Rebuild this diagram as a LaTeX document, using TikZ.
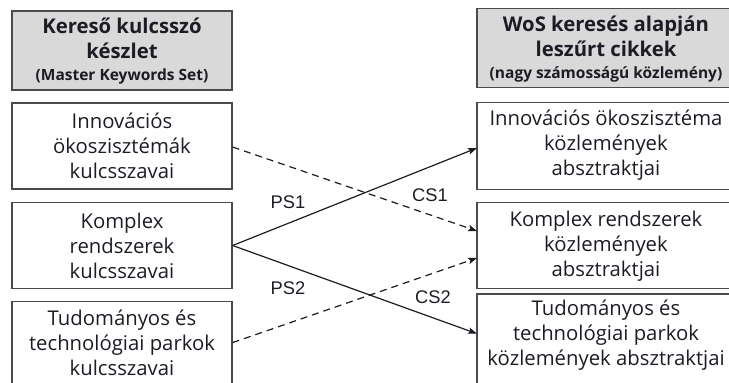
\documentclass[tikz,border=0pt]{standalone}
\usepackage{fontspec}
\setmainfont{Open Sans}
\newfontfamily\labelfont{Liberation Sans}
\usetikzlibrary{arrows.meta}
\definecolor{boxline}{HTML}{4A4A4A}
\definecolor{headfill}{HTML}{D9D9D9}
\definecolor{txt}{HTML}{1C1C24}
\tikzset{
  frame/.style={draw=boxline, line width=1.2pt, inner sep=0pt},
  lbox/.style={frame, minimum width=220pt, minimum height=86pt},
  rframe/.style={inner sep=0pt, anchor=west, minimum width=252pt, minimum height=86pt},
  openside/.style={draw=boxline, line width=1.2pt},
  txtnode/.style={inner sep=0pt, align=center, text=txt, font=\fontsize{20.3}{25}\selectfont},
  headtxt/.style={inner sep=0pt, align=center, text=txt, font=\bfseries\fontsize{20.3}{25}\selectfont},
  conn/.style={line width=1.2pt, draw=txt, -{Stealth[length=9pt,width=6.5pt,inset=2pt]}},
  dconn/.style={conn, dash pattern=on 7pt off 5pt},
  lab/.style={font=\labelfont\fontsize{18.3}{20}\selectfont, text=txt, inner sep=0pt}
}
\newcommand\hsmall{\bfseries\fontsize{15.5}{20}\selectfont}
\begin{document}
\begin{tikzpicture}[x=1pt,y=-1pt]
\useasboundingbox (0,0) rectangle (729,383);
% left header
\node[lbox, fill=headfill, minimum height=79pt] (lh) at (122,50.5) {};
\node[headtxt] (lht) at (122,51) {Kereső kulcsszó\\készlet\\[-3pt]{\hsmall (Master Keywords Set)}};
% right header
\node[rframe, minimum height=78pt] (rh) at (477,48) {};
\fill[headfill] (rh.north west) rectangle (rh.south east);
\draw[openside] (rh.north east) -- (rh.north west) -- (rh.south west) -- (rh.south east);
\node[headtxt] (rht) at (606,49) {WoS keresés alapján\\leszűrt cikkek\\[-3pt]{\hsmall (nagy számosságú közlemény)}};
% left boxes
\node[lbox] (l1) at (122,146) {};
\node[txtnode] (l1t) at (l1) {Innovációs\\ökoszisztémák\\kulcsszavai};
\node[lbox] (l2) at (122,245.5) {};
\node[txtnode] (l2t) at (l2) {Komplex\\rendszerek\\kulcsszavai};
\node[lbox, minimum height=82pt, anchor=north] (l3) at (122,301) {};
\node[txtnode] (l3t) at (122,343) {Tudományos és\\technológiai parkok\\kulcsszavai};
% right boxes
\node[rframe] (r1) at (477,146) {};
\draw[openside] (r1.north east) -- (r1.north west) -- (r1.south west) -- (r1.south east);
\node[txtnode] (r1t) at (606,145) {Innovációs ökoszisztéma\\közlemények\\absztraktjai};
\node[rframe] (r2) at (477,245.5) {};
\draw[openside] (r2.north east) -- (r2.north west) -- (r2.south west) -- (r2.south east);
\node[txtnode] (r2t) at (606,246) {Komplex rendszerek\\közlemények\\absztraktjai};
\node[rframe, minimum height=89pt, anchor=north west] (r3) at (477,294) {};
\draw[openside] (r3.south west) -- (r3.north west) -- (r3.north east);
\node[txtnode] (r3t) at (606,335) {Tudományos és\\technológiai parkok\\közlemények absztraktjai};
% connectors
\draw[dconn] ([yshift=-1pt]l1.east) -- ([yshift=14.5pt]r2.west);
\draw[conn] (l2.east) -- ([yshift=-2pt]r1.west);
\draw[conn] (l2.east) -- ([yshift=5pt]r3.west);
\draw[dconn] (l3.east) -- ([yshift=-12.5pt]r2.west);
\node[lab] (ps1) at (288,202) {PS1};
\node[lab] (cs1) at (430,195) {CS1};
\node[lab] (ps2) at (288,288) {PS2};
\node[lab] (cs2) at (433,297) {CS2};
\end{tikzpicture}
\end{document}
